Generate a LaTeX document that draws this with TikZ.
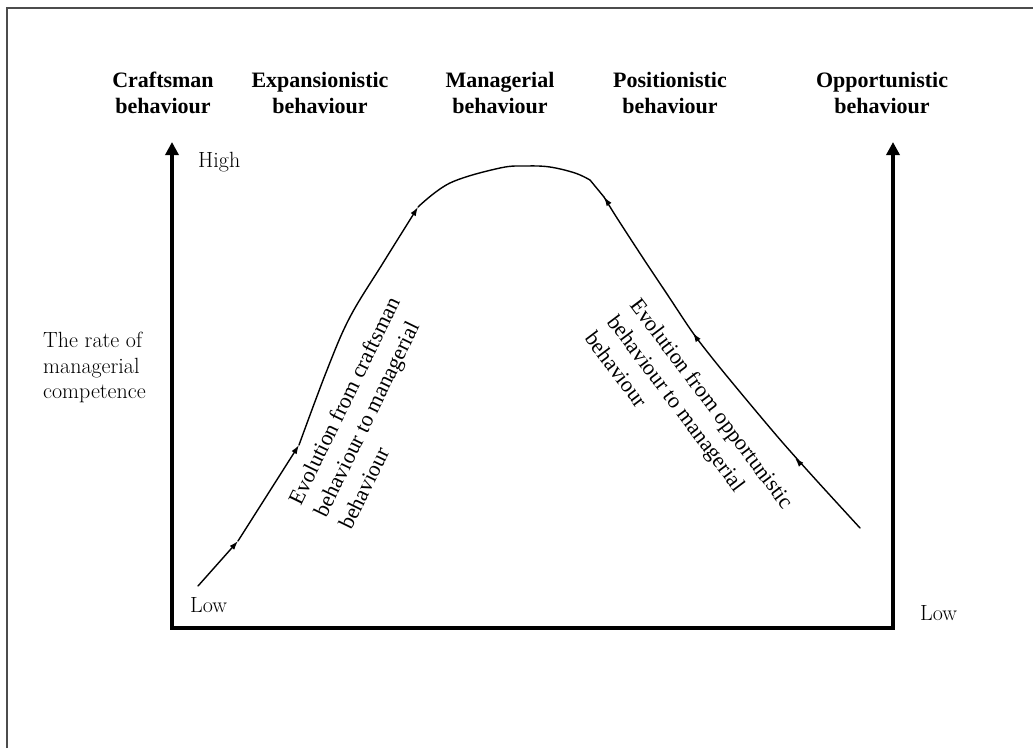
\documentclass[tikz,border=0pt]{standalone}
\usepackage{fontspec}
\newfontfamily\tnr{Liberation Serif}
\usetikzlibrary{arrows.meta}
\begin{document}
\begin{tikzpicture}[x=1pt,y=-1pt,
  frame/.style={draw=black!70, line width=2pt},
  axis/.style={line width=4pt, line join=miter,
    {Triangle[width=13pt,length=13pt]}-{Triangle[width=13pt,length=13pt]}},
  curveseg/.style={line width=1.4pt, line cap=round, -{Latex[length=9pt,width=6pt]}},
  curveplain/.style={line width=1.4pt, line cap=round},
  header/.style={font=\tnr\bfseries\fontsize{22}{26}\selectfont, align=center,
    anchor=south, inner sep=0pt},
  lbl/.style={font=\fontsize{22}{25.5}\selectfont, inner sep=0pt},
  note/.style={font=\tnr\fontsize{22}{28}\selectfont, align=left, inner sep=0pt}]
\useasboundingbox (0,0) rectangle (1033,748);

% page frame (top and left edges)
\draw[frame] (6.5,748) -- (6.5,7.5) -- (1033,7.5);

% axes
\coordinate (tl) at (172,142);
\coordinate (bl) at (172,628);
\coordinate (br) at (893,628);
\coordinate (tr) at (893,142);
\draw[axis] (tl) -- (bl) -- (br) -- (tr);

% column headings
\node[header] (h1) at (163,114) {Craftsman\\behaviour};
\node[header] (h2) at (320,114) {Expansionistic\\behaviour};
\node[header] (h3) at (500,114) {Managerial\\behaviour};
\node[header] (h4) at (670,114) {Positionistic\\behaviour};
\node[header] (h5) at (882,114) {Opportunistic\\behaviour};

% axis labels
\node[lbl, anchor=base west] (high) at (198,167) {High};
\node[lbl, anchor=base west] (lowl) at (190,612) {Low};
\node[lbl, anchor=base west] (lowr) at (920,620) {Low};
\node[lbl, anchor=north west, align=left] (rate) at (43,332)
  {The rate of\\managerial\\competence};

% curve points
\coordinate (c0) at (198,586);
\coordinate (c1) at (238,541);
\coordinate (c2) at (299,445);
\coordinate (c3) at (418,207);
\coordinate (c4) at (590,180);
\coordinate (c5) at (604,197);
\coordinate (c8) at (860,528);

% rising branch
\draw[curveseg] (c0) -- (c1);
\draw[curveseg] (c1) -- (c2);
\draw[curveseg] plot[smooth, tension=0.6] coordinates {(c2) (327,370) (350,317) (383,263) (c3)};
% top of the curve
\draw[curveplain] plot[smooth, tension=0.6] coordinates {(c3) (450,183) (500,168) (527,166) (550,167) (575,173) (c4)};
% falling branch
\draw[curveplain]
  plot[smooth, tension=0.5] coordinates {(c8) (817,481) (783,443) (750,404) (717,364) (693,333) (667,294) (643,258) (617,218) (c5)};
\draw[curveplain] (c5) -- (c4);
% direction marks on the falling branch (pointing up the curve)
\coordinate (r1a) at (800.5,464);
\coordinate (r1b) at (795,458);
\coordinate (r2a) at (697.5,339.5);
\coordinate (r2b) at (693,333);
\coordinate (r3a) at (608.5,203.6);
\coordinate (r3b) at (604,197);
\draw[curveseg] (r1a) -- (r1b);
\draw[curveseg] (r2a) -- (r2b);
\draw[curveseg] (r3a) -- (r3b);

% branch descriptions
\node[note, rotate=64] (evl) at (369,413)
  {Evolution from craftsman\\behaviour to managerial\\behaviour};
\node[note, rotate=-53] (evr) at (690,420)
  {Evolution from opportunistic\\behaviour to managerial\\behaviour};
\end{tikzpicture}
\end{document}
